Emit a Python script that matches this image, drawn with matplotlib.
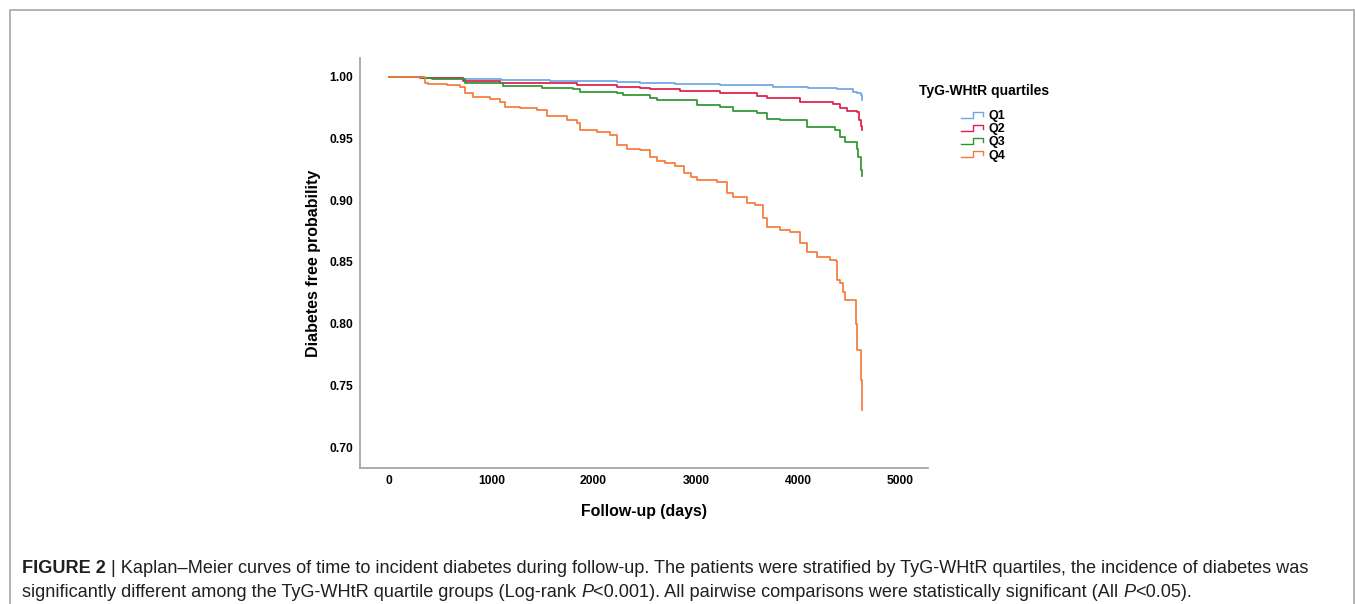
import matplotlib
matplotlib.use('Agg')
import matplotlib.pyplot as plt
from matplotlib.legend_handler import HandlerBase
from matplotlib.lines import Line2D
from matplotlib.patches import Rectangle

# Kaplan-Meier estimates (days, survival)
q1_t = [0, 340, 720, 1100, 1570, 1900, 2230, 2450, 2800, 3240, 3750, 4100, 4380, 4540, 4580, 4610, 4625]
q1_s = [1.0, 0.9995, 0.9984, 0.9978, 0.997, 0.9966, 0.9962, 0.9954, 0.9945, 0.9935, 0.992, 0.9912, 0.990,
        0.9876, 0.9868, 0.985, 0.981]

q2_t = [0, 300, 420, 720, 1085, 1450, 1840, 2230, 2450, 2550, 2845, 3240, 3600, 3700, 4020, 4340, 4410,
        4480, 4575, 4595, 4615, 4625]
q2_s = [1.0, 0.9995, 0.999, 0.997, 0.9954, 0.995, 0.9935, 0.992, 0.9908, 0.990, 0.9889, 0.9868, 0.9846,
        0.9827, 0.980, 0.9778, 0.9746, 0.9727, 0.972, 0.965, 0.960, 0.957]

q3_t = [0, 320, 420, 740, 1110, 1500, 1800, 1870, 2230, 2290, 2550, 2620, 3010, 3240, 3360, 3600, 3700,
        3820, 4090, 4360, 4410, 4460, 4575, 4590, 4610, 4625]
q3_s = [1.0, 0.9995, 0.998, 0.9954, 0.9927, 0.9908, 0.990, 0.988, 0.987, 0.9854, 0.9827, 0.981, 0.9773,
        0.976, 0.9727, 0.9705, 0.9657, 0.965, 0.9597, 0.957, 0.9516, 0.9476, 0.942, 0.935, 0.9246, 0.920]

q4_t = [0, 350, 380, 570, 690, 745, 820, 990, 1085, 1135, 1280, 1450, 1545, 1740, 1840, 1870, 2030, 2160,
        2230, 2330, 2450, 2550, 2620, 2700, 2800, 2880, 2950, 3010, 3210, 3300, 3365, 3500, 3580, 3655,
        3695, 3820, 3920, 4020, 4090, 4185, 4310, 4370, 4380, 4410, 4440, 4460, 4565, 4580, 4615, 4625]
q4_s = [1.0, 0.9954, 0.9945, 0.9935, 0.992, 0.987, 0.984, 0.982, 0.980, 0.976, 0.975, 0.973, 0.968, 0.965,
        0.963, 0.957, 0.955, 0.953, 0.945, 0.942, 0.941, 0.935, 0.932, 0.930, 0.928, 0.922, 0.919, 0.9165,
        0.915, 0.906, 0.903, 0.898, 0.896, 0.886, 0.878, 0.876, 0.874, 0.865, 0.858, 0.854, 0.8516, 0.8508,
        0.835, 0.833, 0.826, 0.819, 0.800, 0.779, 0.754, 0.730]

labels = ['Q1', 'Q2', 'Q3', 'Q4']
colors = ['#6ea6e6', '#dc1f4b', '#2f962f', '#f47a3c']
xticks = [0, 1000, 2000, 3000, 4000, 5000]
yticks = [0.70, 0.75, 0.80, 0.85, 0.90, 0.95, 1.00]

caption1 = [('FIGURE 2', 'bold', 'normal'),
            (' | Kaplan\u2013Meier curves of time to incident diabetes during follow-up. The patients were '
             'stratified by TyG-WHtR quartiles, the incidence of diabetes was', 'normal', 'normal')]
caption2 = [('significantly different among the TyG-WHtR quartile groups (Log-rank ', 'normal', 'normal'),
            ('P', 'normal', 'italic'),
            ('<0.001). All pairwise comparisons were statistically significant (All ', 'normal', 'normal'),
            ('P', 'normal', 'italic'),
            ('<0.05).', 'normal', 'normal')]

plt.rcParams['font.family'] = ['Liberation Sans', 'DejaVu Sans']


class HandlerStep(HandlerBase):
    # small step-shaped legend key like the SPSS one
    def create_artists(self, legend, orig_handle, xdescent, ydescent, width, height, fontsize, trans):
        x0, y0 = -xdescent, -ydescent
        xs = [x0, x0 + 0.55 * width, x0 + 0.55 * width, x0 + width, x0 + width]
        ys = [y0 + 0.15 * height, y0 + 0.15 * height, y0 + 0.85 * height, y0 + 0.85 * height, y0 + 0.4 * height]
        ln = Line2D(xs, ys, color=orig_handle.get_color(), lw=1.0, transform=trans)
        return [ln]


fig = plt.figure(figsize=(13.55, 6.04), dpi=100)
ax = fig.add_axes([0.2657, 0.2252, 0.4192, 0.6788])

handles = []
for t, s, lab, c in zip([q1_t, q2_t, q3_t, q4_t], [q1_s, q2_s, q3_s, q4_s], labels, colors):
    h, = ax.step(t, s, where='post', color=c, lw=1.25, label=lab)
    handles.append(h)

ax.set_xlim(-283, 5270)
ax.set_ylim(0.683, 1.0154)
ax.set_xticks(xticks)
ax.set_yticks(yticks)
ax.set_yticklabels(['%.2f' % v for v in yticks])
ax.tick_params(length=0, labelsize=8.7)
ax.tick_params(axis='y', pad=5)
ax.tick_params(axis='x', pad=5)
for lab in ax.get_xticklabels() + ax.get_yticklabels():
    lab.set_fontweight('bold')
for sp in ['top', 'right']:
    ax.spines[sp].set_visible(False)
for sp in ['left', 'bottom']:
    ax.spines[sp].set_color('#a6a6a6')
    ax.spines[sp].set_linewidth(1.3)

ax.set_xlabel('Follow-up (days)', fontsize=11.4, fontweight='bold', labelpad=12)
ax.set_ylabel('Diabetes free probability', fontsize=11.5, fontweight='bold', labelpad=6)

# legend title written separately so the gap to the entries matches
fig.text(984 / 1355, 1 - 91 / 604, 'TyG-WHtR quartiles', fontsize=10, fontweight='bold',
         ha='center', va='center')
leg = fig.legend(handles=handles, labels=labels, loc='upper center',
                 bbox_to_anchor=(983 / 1355, 1 - 104 / 604), frameon=False,
                 prop={'size': 9, 'weight': 'bold'},
                 handler_map={Line2D: HandlerStep()}, handlelength=1.8, handleheight=0.7,
                 handletextpad=0.45, labelspacing=0.09, borderpad=0)

# border of the figure panel (open at the bottom)
fig.add_artist(Rectangle((9.5 / 1355, -0.1), 1344 / 1355, 1.1 - 10.5 / 604, transform=fig.transFigure,
                         fill=False, edgecolor='#a6a6a6', lw=1.2))

# caption, written piece by piece for the bold / italic parts
renderer = fig.canvas.get_renderer()


def put_line(pieces, y):
    x = 22 / 1355
    for txt, wt, st in pieces:
        tt = fig.text(x, y, txt, fontsize=13.05, fontweight=wt, fontstyle=st, color='#231f20',
                      va='baseline', ha='left')
        bb = tt.get_window_extent(renderer=renderer)
        x += bb.width / fig.bbox.width


put_line(caption1, 1 - 573 / 604)
put_line(caption2, 1 - 597 / 604)

fig.savefig('out.png', dpi=100)
